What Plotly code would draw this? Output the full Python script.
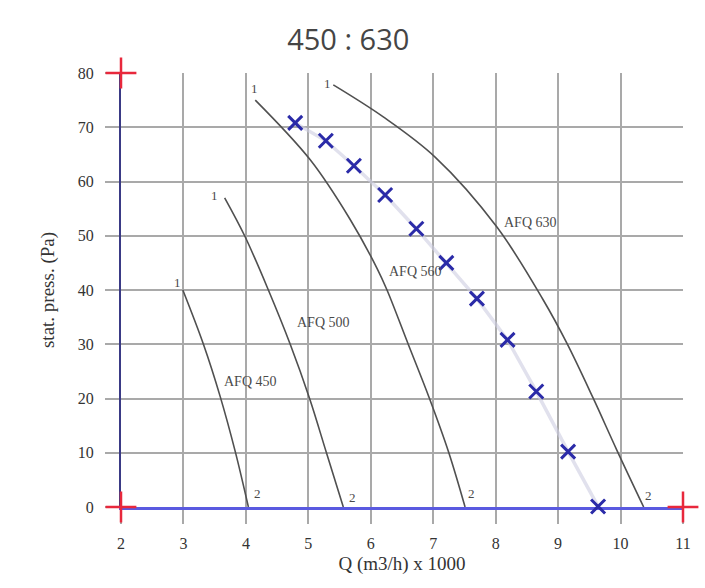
import plotly.graph_objects as go

# ---- data ----
title_text = "450 : 630"
x_ticks = [2, 3, 4, 5, 6, 7, 8, 9, 10, 11]
y_ticks = [0, 10, 20, 30, 40, 50, 60, 70, 80]

afq450_q = [2.99, 3.32, 3.59, 3.83, 4.04]
afq450_p = [40.0, 30.0, 20.3, 10.2, 0.0]

afq500_q = [3.66, 3.98, 4.36, 4.71, 5.02, 5.29, 5.56]
afq500_p = [57.0, 50.0, 40.0, 30.0, 20.0, 10.0, 0.0]

afq560_q = [4.15, 5.03, 5.67, 6.10, 6.26, 6.60, 6.94, 7.25, 7.51]
afq560_p = [75.0, 64.0, 53.0, 44.0, 40.0, 30.0, 20.0, 10.0, 0.0]

afq630_q = [5.40, 6.20, 7.03, 8.02, 8.76, 9.14, 9.56, 9.94, 10.37]
afq630_p = [77.8, 71.9, 64.5, 51.6, 38.2, 30.2, 20.1, 10.5, 0.0]

pts_q = [4.79, 5.28, 5.73, 6.23, 6.73, 7.21, 7.70, 8.19, 8.65, 9.16, 9.64]
pts_p = [70.8, 67.5, 62.9, 57.5, 51.3, 45.0, 38.4, 30.8, 21.3, 10.2, 0.1]

corner_q = [2, 2, 11]
corner_p = [80, 0, 0]

curve_names = ["AFQ 450", "AFQ 500", "AFQ 560", "AFQ 630"]
curve_label_q = [4.08, 5.25, 6.72, 8.55]
curve_label_p = [23.2, 34.1, 43.5, 52.5]
start_label_q = [2.90, 3.49, 4.13, 5.30]
start_label_p = [41.3, 57.5, 77.2, 78.0]
end_label_q = [4.18, 5.70, 7.62, 10.44]
end_label_p = [2.4, 1.8, 2.4, 2.2]

serif = "Liberation Serif"
ink = "#4a4a4a"

fig = go.Figure()

for q, p in [(afq450_q, afq450_p), (afq500_q, afq500_p),
             (afq560_q, afq560_p), (afq630_q, afq630_p)]:
    fig.add_trace(go.Scatter(x=q, y=p, mode="lines",
                             line=dict(color="#505050", width=1.6, shape="spline", smoothing=1.0),
                             hoverinfo="skip", showlegend=False))

# pale connecting line of operating points
fig.add_trace(go.Scatter(x=pts_q, y=pts_p, mode="lines",
                         line=dict(color="rgba(205,205,225,0.6)", width=3.5),
                         hoverinfo="skip", showlegend=False))

# operating points
fig.add_trace(go.Scatter(x=pts_q, y=pts_p, mode="markers",
                         marker=dict(symbol="x-thin", size=14,
                                     line=dict(color="#2b2ba8", width=3)),
                         cliponaxis=False, showlegend=False))

# red corner crosses
fig.add_trace(go.Scatter(x=corner_q, y=corner_p, mode="markers",
                         marker=dict(symbol="cross-thin", size=22,
                                     line=dict(color="#e8283c", width=2.5)),
                         cliponaxis=False, showlegend=False))

annotations = []
for name, q, p in zip(curve_names, curve_label_q, curve_label_p):
    annotations.append(dict(x=q, y=p, text=name, showarrow=False,
                            font=dict(family=serif, size=14, color=ink)))
for q, p in zip(start_label_q, start_label_p):
    annotations.append(dict(x=q, y=p, text="1", showarrow=False,
                            font=dict(family=serif, size=13, color=ink)))
for q, p in zip(end_label_q, end_label_p):
    annotations.append(dict(x=q, y=p, text="2", showarrow=False,
                            font=dict(family=serif, size=13, color=ink)))

fig.update_layout(
    width=705, height=588,
    margin=dict(l=121, r=22, t=73, b=81),
    paper_bgcolor="white", plot_bgcolor="white",
    title=dict(text=title_text, x=0.494, xanchor="center", y=0.932, yanchor="middle",
               font=dict(family="Open Sans", size=29, color="#454545")),
    annotations=annotations,
    xaxis=dict(range=[2, 11], tickvals=x_ticks, ticktext=[str(v) for v in x_ticks],
               showgrid=True, gridcolor="#a9a9a9", gridwidth=1.5, zeroline=False,
               showline=True, linecolor="#5a5ae0", linewidth=3, layer="below traces",
               ticks="outside", ticklen=14, tickcolor="#a9a9a9", tickwidth=1.5,
               ticklabelstandoff=6,
               tickfont=dict(family=serif, size=16, color="#333"),
               title=dict(text="Q (m3/h) x 1000", standoff=6,
                          font=dict(family=serif, size=19, color="#333"))),
    yaxis=dict(range=[0, 80], tickvals=y_ticks, ticktext=[str(v) for v in y_ticks],
               showgrid=True, gridcolor="#a9a9a9", gridwidth=1.5, zeroline=False,
               showline=True, linecolor="#3a3a85", linewidth=2, layer="below traces",
               ticks="outside", ticklen=14, tickcolor="#a9a9a9", tickwidth=1.5,
               ticklabelstandoff=8,
               tickfont=dict(family=serif, size=16, color="#333"),
               title=dict(text="stat. press. (Pa)", standoff=18,
                          font=dict(family=serif, size=19, color="#333"))),
)

fig.write_html("out.html")
